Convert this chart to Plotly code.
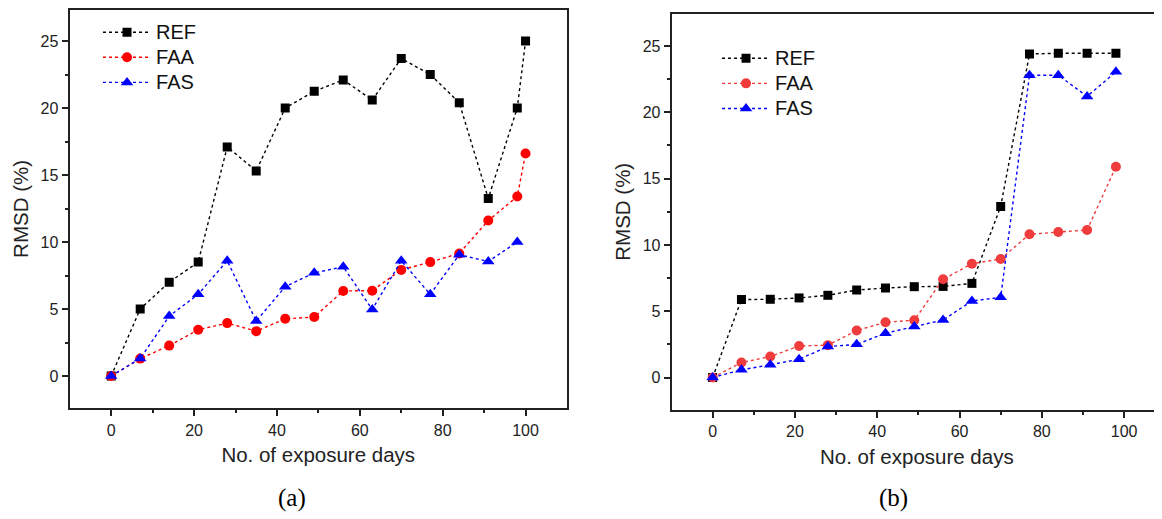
import plotly.graph_objects as go

# exposure days
days_a = [0, 7, 14, 21, 28, 35, 42, 49, 56, 63, 70, 77, 84, 91, 98, 100]
days_a_fas = [0, 7, 14, 21, 28, 35, 42, 49, 56, 63, 70, 77, 84, 91, 98]
days_b = [0, 7, 14, 21, 28, 35, 42, 49, 56, 63, 70, 77, 84, 91, 98]

# panel (a) RMSD (%)
ref_a = [0, 5.0, 7.0, 8.5, 17.1, 15.3, 20.0, 21.25, 22.1, 20.6, 23.7, 22.5, 20.4, 13.25, 20.0, 25.0]
faa_a = [0, 1.3, 2.27, 3.45, 3.95, 3.35, 4.27, 4.4, 6.35, 6.37, 7.92, 8.5, 9.15, 11.6, 13.4, 16.6]
fas_a = [0, 1.3, 4.47, 6.1, 8.6, 4.1, 6.67, 7.7, 8.15, 4.97, 8.6, 6.1, 9.05, 8.55, 10.0]

# panel (b) RMSD (%)
ref_b = [0, 5.88, 5.9, 6.0, 6.2, 6.6, 6.75, 6.85, 6.87, 7.1, 12.9, 24.4, 24.45, 24.45, 24.45]
faa_b = [0, 1.13, 1.58, 2.38, 2.44, 3.54, 4.17, 4.32, 7.41, 8.58, 8.94, 10.8, 10.97, 11.12, 15.9]
fas_b = [0, 0.58, 0.96, 1.38, 2.33, 2.5, 3.34, 3.84, 4.34, 5.77, 6.05, 22.8, 22.8, 21.2, 23.05]

FONT = "Liberation Sans, Arial, sans-serif"
# the page body keeps its default 8px margin, so the figure is 8px smaller
W, H = 1154, 511


def series(x, y, name, color, symbol, size, xa, ya, legend):
    return go.Scatter(
        x=x, y=y, mode='lines+markers',
        name='<span style="font-size:20px">%s</span>' % name,
        line=dict(color=color, width=1.4, dash='dot'),
        marker=dict(color=color, symbol=symbol, size=size),
        xaxis=xa, yaxis=ya, legend=legend,
    )


data = [
    series(days_a, ref_a, 'REF', 'black', 'square', 9, 'x', 'y', 'legend'),
    series(days_a, faa_a, 'FAA', '#ff0000', 'circle', 10, 'x', 'y', 'legend'),
    series(days_a_fas, fas_a, 'FAS', '#0000ff', 'triangle-up', 11, 'x', 'y', 'legend'),
    series(days_b, ref_b, 'REF', 'black', 'square', 9, 'x2', 'y2', 'legend2'),
    series(days_b, faa_b, 'FAA', '#f03c3c', 'circle', 10, 'x2', 'y2', 'legend2'),
    series(days_b, fas_b, 'FAS', '#0000ff', 'triangle-up', 11, 'x2', 'y2', 'legend2'),
]

tick_font = dict(family=FONT, size=16, color='#222')
title_font = dict(family=FONT, size=20.5, color='#222')


def xaxis(domain, anchor, rng):
    return dict(
        domain=domain, anchor=anchor, range=rng,
        tickvals=[0, 20, 40, 60, 80, 100], ticks='outside', ticklen=6,
        tickwidth=1.5, tickcolor='#222',
        minor=dict(tickvals=[10, 30, 50, 70, 90], ticks='outside', ticklen=3,
                   tickwidth=1.5, tickcolor='#222'),
        showline=True, linecolor='#222', linewidth=2, mirror=True,
        showgrid=False, zeroline=False, tickfont=tick_font,
        title=dict(text='No. of exposure days', font=title_font, standoff=10),
    )


def yaxis(domain, anchor, rng, mirror):
    return dict(
        domain=domain, anchor=anchor, range=rng,
        tickvals=[0, 5, 10, 15, 20, 25], ticks='outside', ticklen=6,
        tickwidth=1.5, tickcolor='#222',
        minor=dict(tickvals=[2.5, 7.5, 12.5, 17.5, 22.5], ticks='outside',
                   ticklen=3, tickwidth=1.5, tickcolor='#222'),
        showline=True, linecolor='#222', linewidth=2, mirror=mirror,
        showgrid=False, zeroline=False, tickfont=tick_font,
        title=dict(text='RMSD (%)', font=title_font, standoff=6),
    )


legend_style = dict(
    font=dict(family=FONT, size=17, color='#111'),
    bgcolor='rgba(0,0,0,0)', tracegroupgap=0, itemwidth=48,
    xanchor='left', yanchor='top',
)

label_font = dict(family='Liberation Serif, Times New Roman, serif', size=25, color='black')

layout = go.Layout(
    width=W, height=H,
    margin=dict(l=0, r=0, t=0, b=0),
    paper_bgcolor='white', plot_bgcolor='white',
    xaxis=xaxis([0.0533, 0.4844], 'y', [-10.06, 110.0]),
    yaxis=yaxis([0.2166, 0.997], 'x', [-2.41, 27.35], True),
    xaxis2=xaxis([0.5751, 1.0], 'y2', [-9.96, 109.2]),
    yaxis2=yaxis([0.2133, 0.9892], 'x2', [-2.45, 27.45], False),
    legend=dict(x=0.078, y=0.987, **legend_style),
    legend2=dict(x=0.6144, y=0.936, **legend_style),
    annotations=[
        dict(text='(a)', x=284 / W, y=1 - 490 / H, xref='paper', yref='paper',
             xanchor='center', yanchor='middle', showarrow=False, font=label_font),
        dict(text='(b)', x=885 / W, y=1 - 490 / H, xref='paper', yref='paper',
             xanchor='center', yanchor='middle', showarrow=False, font=label_font),
    ],
)

fig = go.Figure(data=data, layout=layout)
fig.write_html("out.html")
